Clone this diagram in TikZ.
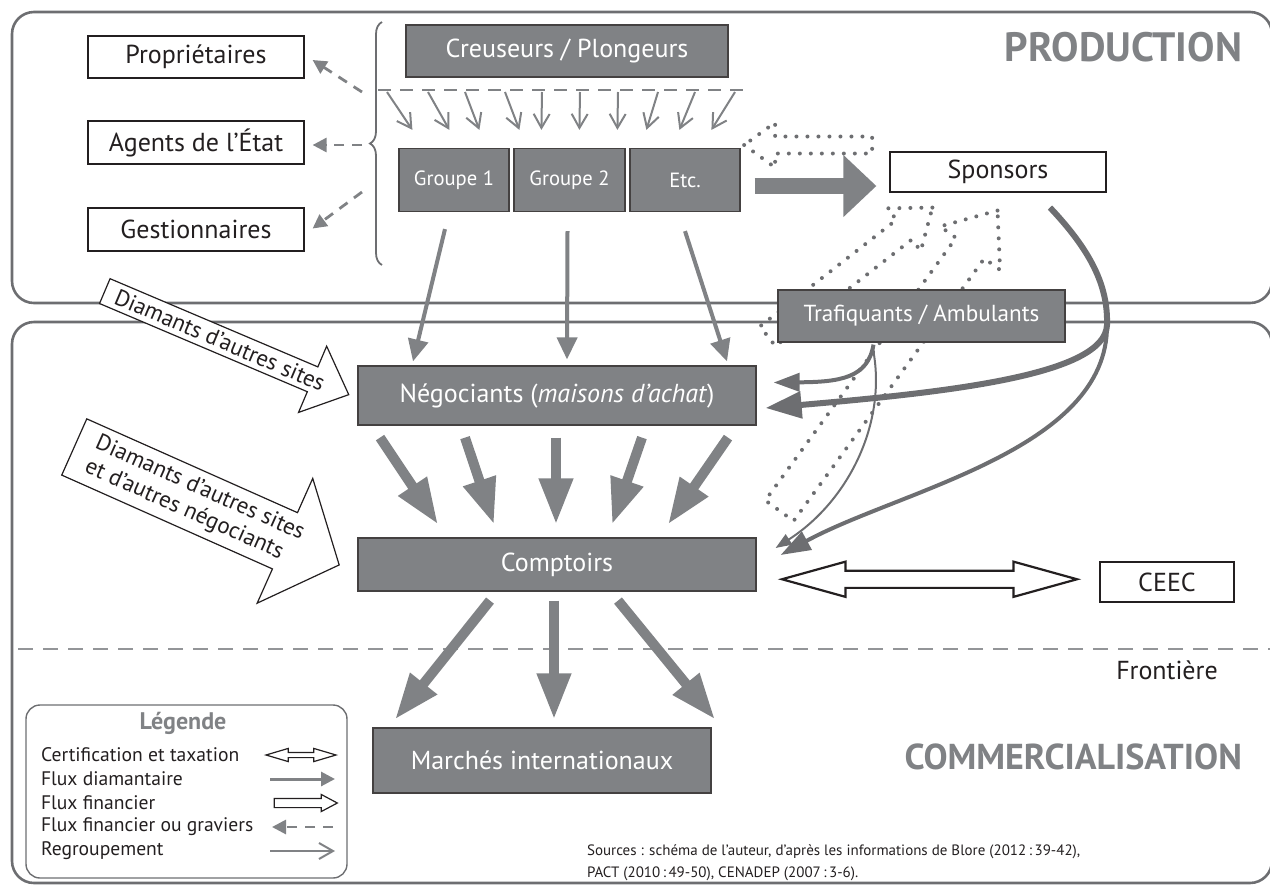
\documentclass[tikz,border=0pt]{standalone}
\usepackage{fontspec}
\setmainfont{PT Sans}
\usepackage{tikz}
\usetikzlibrary{calc}
\usetikzlibrary{decorations.pathreplacing}
\usetikzlibrary{shapes.arrows}
\usetikzlibrary{arrows.meta}

\definecolor{boxgray}{RGB}{128,130,133}
\definecolor{linegray}{RGB}{109,110,113}
\definecolor{lightgray}{RGB}{147,149,152}
\definecolor{ink}{RGB}{35,31,32}

\begin{document}
\begin{tikzpicture}[x = 0.5pt, y = -0.5pt,
    whitebox/.style = {draw = ink, line width = 0.6pt, fill = white, text = ink, inner sep = 0pt, font = \fontsize{13}{15}\selectfont},
    darkbox/.style = {draw = ink!85, line width = 0.6pt, fill = boxgray, text = white, inner sep = 0pt, font = \fontsize{13}{15}\selectfont},
    frame/.style = {linegray, line width = 1.3pt, rounded corners = 11pt},
    title/.style = {text = boxgray, anchor = east, font = \fontsize{20.5}{23}\selectfont\bfseries},
    fin/.style = {boxgray, line width = 1.4pt, dash pattern = on 5pt off 4pt, -{Triangle[length = 7pt, width = 7pt]}},
    regroup/.style = {boxgray, line width = 1pt, -{Straight Barb[length = 7pt, width = 8pt]}},
    diam/.style = {boxgray, line width = 2pt, -{Triangle[length = 11pt, width = 10pt]}},
    bigdiam/.style = {boxgray, line width = 5pt, -{Triangle[length = 23pt, width = 16pt]}},
    bigflow/.style = {boxgray, line width = 8pt, -{Triangle[length = 16.5pt, width = 30pt]}},
    hollow/.style = {single arrow, draw = ink, line width = 0.6pt, fill = white, text = ink, font = \fontsize{11.5}{13}\selectfont},
    dotflux/.style = {single arrow, draw = linegray, line width = 2pt, line cap = round, dash pattern = on 0pt off 5.5pt, inner xsep = 0pt},
    legtext/.style = {anchor = west, text = ink, font = \fontsize{9.8}{12}\selectfont}]

    \useasboundingbox (0,0) rectangle (1270,885);
    \clip (0,0) rectangle (1270,885);

    \draw[frame] (12,12) rectangle (1272,303);
    \draw[frame] (12,322) rectangle (1272,883);
    \draw[lightgray, line width = 1.3pt, dash pattern = on 7.5pt off 5pt] (18,649) -- (1270,649);

    \node[title] (prodtitle) at (1249,47) {PRODUCTION};
    \node[title, font = \fontsize{18}{20}\selectfont\bfseries] (comtitle) at (1249,757) {COMMERCIALISATION};
    \node[text = ink, font = \fontsize{13}{15}\selectfont] (front) at (1167,670) {Frontière};

    \node[whitebox, minimum width = 108pt, minimum height = 21pt] (prop) at (196,57) {Propriétaires};
    \node[whitebox, minimum width = 108pt, minimum height = 21.5pt] (agents) at (196,142.5) {Agents de l’État};
    \node[whitebox, minimum width = 108pt, minimum height = 21.5pt] (gest) at (196,229.5) {Gestionnaires};

    \draw[linegray, line width = 0.9pt, decorate, decoration = {brace, amplitude = 6pt}] (382,265) -- (382,22);
    \coordinate (b1) at (362,92);
    \coordinate (b2) at (362,145);
    \coordinate (b3) at (362,192);
    \draw[fin] (b1) -- ($(prop.east)+(8,3)$);
    \draw[fin] (b2) -- ($(agents.east)+(8,2.5)$);
    \draw[fin] (b3) -- ($(gest.east)+(8,-1)$);

    \node[darkbox, minimum width = 161pt, minimum height = 26pt] (creus) at (567,51) {Creuseurs / Plongeurs};
    \draw[boxgray, line width = 1.2pt, dash pattern = on 6.5pt off 4.5pt] (378,90) coordinate (gl) -- (748,90);

    \node[darkbox, minimum width = 55pt, minimum height = 31.5pt, font = \fontsize{10.3}{12}\selectfont] (g1) at (454,180) {Groupe 1};
    \node[darkbox, minimum width = 55.5pt, minimum height = 31.5pt, font = \fontsize{10.3}{12}\selectfont] (g2) at (569.5,180) {Groupe 2};
    \node[darkbox, minimum width = 55pt, minimum height = 31.5pt, font = \fontsize{10.3}{12}\selectfont] (etc) at (685,180) {Etc.};

    \foreach \a/\b in {9/14, 50/51, 87/81, 127/121, 164/143, 202/181, 240/219, 280/248, 317/281, 357/313}
    {
     \draw[regroup] ($(gl)+(\a,2)$) -- ($(g1.north west)+(\b,-18)$);
    }

    \node[dotflux, rotate = 180, minimum height = 64pt, inner ysep = 3.25pt, single arrow head extend = 7pt, single arrow tip angle = 72] (back) at (814,145) {};
    \node[dotflux, rotate = 38, minimum height = 104.5pt, inner ysep = 5.25pt, single arrow head extend = 7.25pt, single arrow tip angle = 74] (retA) at (843.5,277) {};
    \node[dotflux, rotate = 54, minimum height = 185.5pt, inner ysep = 7.75pt, single arrow head extend = 9.75pt, single arrow tip angle = 77] (retB) at (882,369.5) {};

    \node[whitebox, minimum width = 108pt, minimum height = 20pt] (spons) at (998,172) {Sponsors};
    \node[darkbox, minimum width = 143.5pt, minimum height = 26pt, font = \fontsize{11.6}{13}\selectfont] (traf) at (921.5,316) {Trafiquants / Ambulants};
    \node[darkbox, minimum width = 199pt, minimum height = 29.5pt] (nego) at (557,395.5) {Négociants (\textit{maisons d’achat})};
    \node[darkbox, minimum width = 199pt, minimum height = 26.5pt] (cpt) at (557,564.5) {Comptoirs};
    \node[darkbox, minimum width = 169pt, minimum height = 32.5pt] (march) at (542,760.5) {Marchés internationaux};
    \node[whitebox, minimum width = 67pt, minimum height = 20pt] (ceec) at (1167,582) {CEEC};

    \draw[bigflow] ($(etc.east)+(14,6)$) -- ($(spons.west)+(-13,14)$);

    \draw[diam] ($(g1.south)+(-9,17)$) -- ($(nego.north)+(-144,-4)$);
    \draw[diam] ($(g2.south)+(-2,19)$) -- ($(nego.north)+(10,-6)$);
    \draw[diam] ($(etc.south)+(0,19)$) -- ($(nego.north)+(170,-4)$);

    \foreach \s/\e in {-177/-119, -92/-63, -1/-1, 85/55, 171/111}
    {
     \draw[bigdiam] ($(nego.south)+(\s,12)$) -- ($(cpt.north)+(\e,-13)$);
    }
    \foreach \s/\e in {-67/-147, -3/12, 61/173}
    {
     \draw[bigdiam] ($(cpt.south)+(\s,9)$) -- ($(march.north)+(\e,-8)$);
    }

    \coordinate (sp) at ($(spons.south)+(52,15)$);
    \coordinate (jn) at (1107,325);
    \draw[linegray, line width = 3pt, -{Triangle[length = 18pt, width = 13pt]}] (sp) .. controls (1095,255) and (1108,290) .. (jn) .. controls (1105,375) and (950,392) .. ($(nego.east)+(9,12.5)$);
    \draw[linegray, line width = 2pt, -{Triangle[length = 15pt, width = 10pt]}] (sp) .. controls (1095,255) and (1108,290) .. (jn) .. controls (1108,450) and (900,490) .. ($(cpt.east)+(24,-9.5)$);
    \draw[linegray, line width = 2pt, -{Triangle[length = 13pt, width = 9pt]}] ($(traf.south)+(-48,2)$) .. controls (868,378) and (840,382) .. ($(nego.east)+(17,-13)$);
    \draw[linegray, line width = 1pt, -{Triangle[length = 8pt, width = 6pt]}] ($(traf.south)+(-49,4)$) .. controls (888,420) and (850,500) .. ($(cpt.east)+(19,-16.5)$);

    \node[double arrow, draw = ink, line width = 1.1pt, fill = white, minimum height = 147.5pt, inner ysep = 3.75pt, double arrow head extend = 4.5pt, double arrow tip angle = 31] (certif) at ($(cpt.east)!0.5!(ceec.west)+(1.5,6)$) {};

    \node[hollow, rotate = -23, minimum height = 132.5pt, inner ysep = 2.3pt, single arrow head extend = 11.25pt, single arrow tip angle = 85] (dsites) at (220,340) {Diamants d’autres sites};
    \node[hollow, align = left, rotate = -24, minimum height = 145pt, inner ysep = 3.3pt, single arrow head extend = 18.75pt, single arrow tip angle = 98] (dnego) at (194.5,500.5) {Diamants d’autres sites\\et d’autres négociants};

    \draw[linegray, line width = 0.7pt, rounded corners = 7pt] (26,705) rectangle (347,878);
    \node[text = boxgray, font = \fontsize{12}{14}\selectfont\bfseries] (leg) at (183,723) {Légende};
    \foreach \t [count = \k] in {Certification et taxation, Flux diamantaire, Flux financier, Flux financier ou graviers, Regroupement}
    {
     \node[legtext] (l\k) at (34,731 + \k*24) {\t};
    }
    \node[double arrow, draw = ink, line width = 0.6pt, minimum height = 35pt, inner ysep = 1pt, double arrow head extend = 2pt, double arrow tip angle = 33] (kcert) at (301,755) {};
    \draw[boxgray, line width = 1.5pt, -{Triangle[length = 7pt, width = 7pt]}] (270,779) coordinate (kd) -- (335,779);
    \node[single arrow, draw = ink, line width = 0.6pt, minimum height = 31.5pt, inner ysep = 2pt, single arrow head extend = 2pt, single arrow tip angle = 56] (kfin) at (301.5,803) {};
    \draw[fin] (333,827) coordinate (kg) -- (272,827);
    \draw[regroup] (270,851) coordinate (kr) -- (335,851);

    \node[anchor = north west, align = left, text = ink, font = \fontsize{7.5}{11}\selectfont] (src) at (580,838) {Sources~: schéma de l’auteur, d’après les informations de Blore (2012\,:\,39-42),\\PACT (2010\,:\,49-50), CENADEP (2007\,:\,3-6).};
\end{tikzpicture}
\end{document}
